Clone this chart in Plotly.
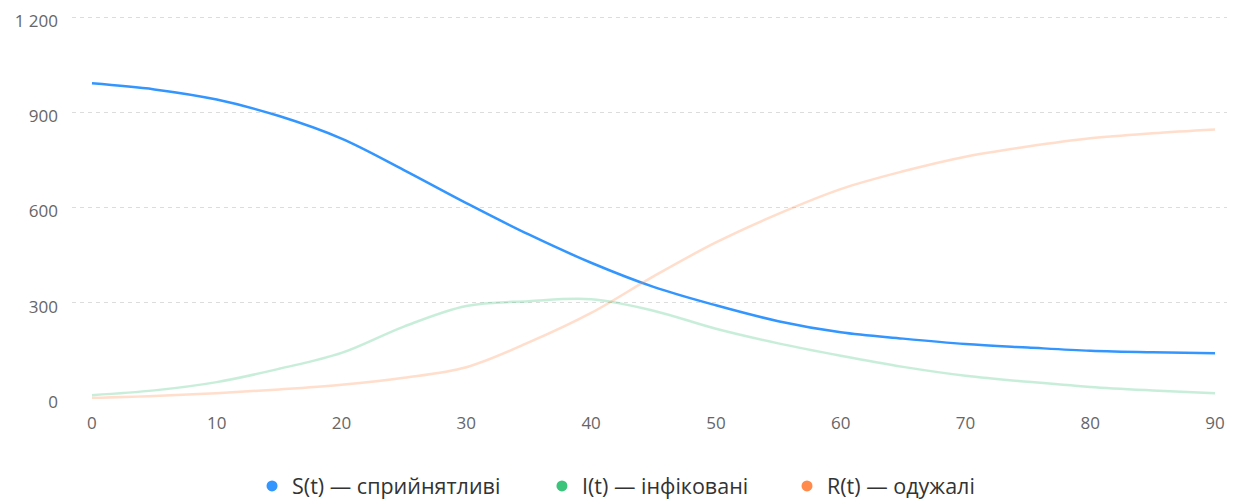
import plotly.graph_objects as go

days = [0, 5, 10, 15, 20, 25, 30, 35, 40, 45, 50, 55, 60, 65, 70, 75, 80, 85, 90]
susceptible = [991, 972, 940, 888, 817, 718, 614, 515, 426, 350, 292, 242, 207, 187, 170, 159, 149, 144, 141]
infected = [9, 24, 50, 92, 142, 225, 290, 305, 311, 275, 218, 172, 133, 98, 70, 51, 35, 24, 15]
recovered = [0, 6, 15, 27, 42, 64, 97, 175, 268, 383, 490, 580, 658, 714, 760, 792, 818, 834, 846]

names = ["S(t) — сприйнятливі", "I(t) — інфіковані", "R(t) — одужалі"]
colors = ["#3396ff", "#3cc47c", "#ff8a4c"]
opacities = [1.0, 0.28, 0.28]
series = [susceptible, infected, recovered]
legend_ids = ["legend", "legend2", "legend3"]

FONT = "Open Sans"

fig = go.Figure()
for vals, col, op in zip(series, colors, opacities):
    fig.add_trace(go.Scatter(
        x=days, y=vals, mode="lines",
        line=dict(color=col, width=2.5, shape="spline", smoothing=1.0),
        opacity=op, showlegend=False, hoverinfo="skip",
    ))
for name, col, lid in zip(names, colors, legend_ids):
    fig.add_trace(go.Scatter(
        x=[None], y=[None], mode="markers", name=name,
        marker=dict(color=col, size=11, symbol="circle"),
        legend=lid, showlegend=True,
    ))

legend_common = dict(
    orientation="h", yanchor="top", y=-0.173, xanchor="left",
    font=dict(family=FONT, size=21.5, color="#333333"),
    bgcolor="rgba(0,0,0,0)", borderwidth=0,
)

# page body has an 8px default margin: figure is sized/offset to compensate
fig.update_layout(
    width=1227, height=492,
    margin=dict(l=64, r=0, t=7, b=101, autoexpand=False),
    paper_bgcolor="white", plot_bgcolor="white",
    font=dict(family=FONT, color="#666666"),
    separators=". ",
    legend=dict(x=0.1548, **legend_common),
    legend2=dict(x=0.4041, **legend_common),
    legend3=dict(x=0.6148, **legend_common),
    xaxis=dict(
        range=[-1.6, 91.6], tickmode="array", tickvals=list(range(0, 91, 10)),
        showgrid=False, zeroline=False, showline=False, automargin=False,
        ticks="", ticklabelstandoff=12, ticklabeloverflow="allow",
        tickfont=dict(family=FONT, size=17, color="#666666"),
    ),
    yaxis=dict(
        range=[-3.15, 1206.3], tickmode="array", tickvals=[0, 300, 600, 900, 1200],
        separatethousands=True, automargin=False,
        showgrid=True, gridcolor="#dcdcdc", gridwidth=1, griddash="4px,4px",
        zeroline=False, showline=False, ticks="", ticklabelstandoff=13,
        ticklabelshift=4, ticklabeloverflow="allow",
        tickfont=dict(family=FONT, size=17, color="#666666"),
    ),
)

fig.write_html("out.html")
